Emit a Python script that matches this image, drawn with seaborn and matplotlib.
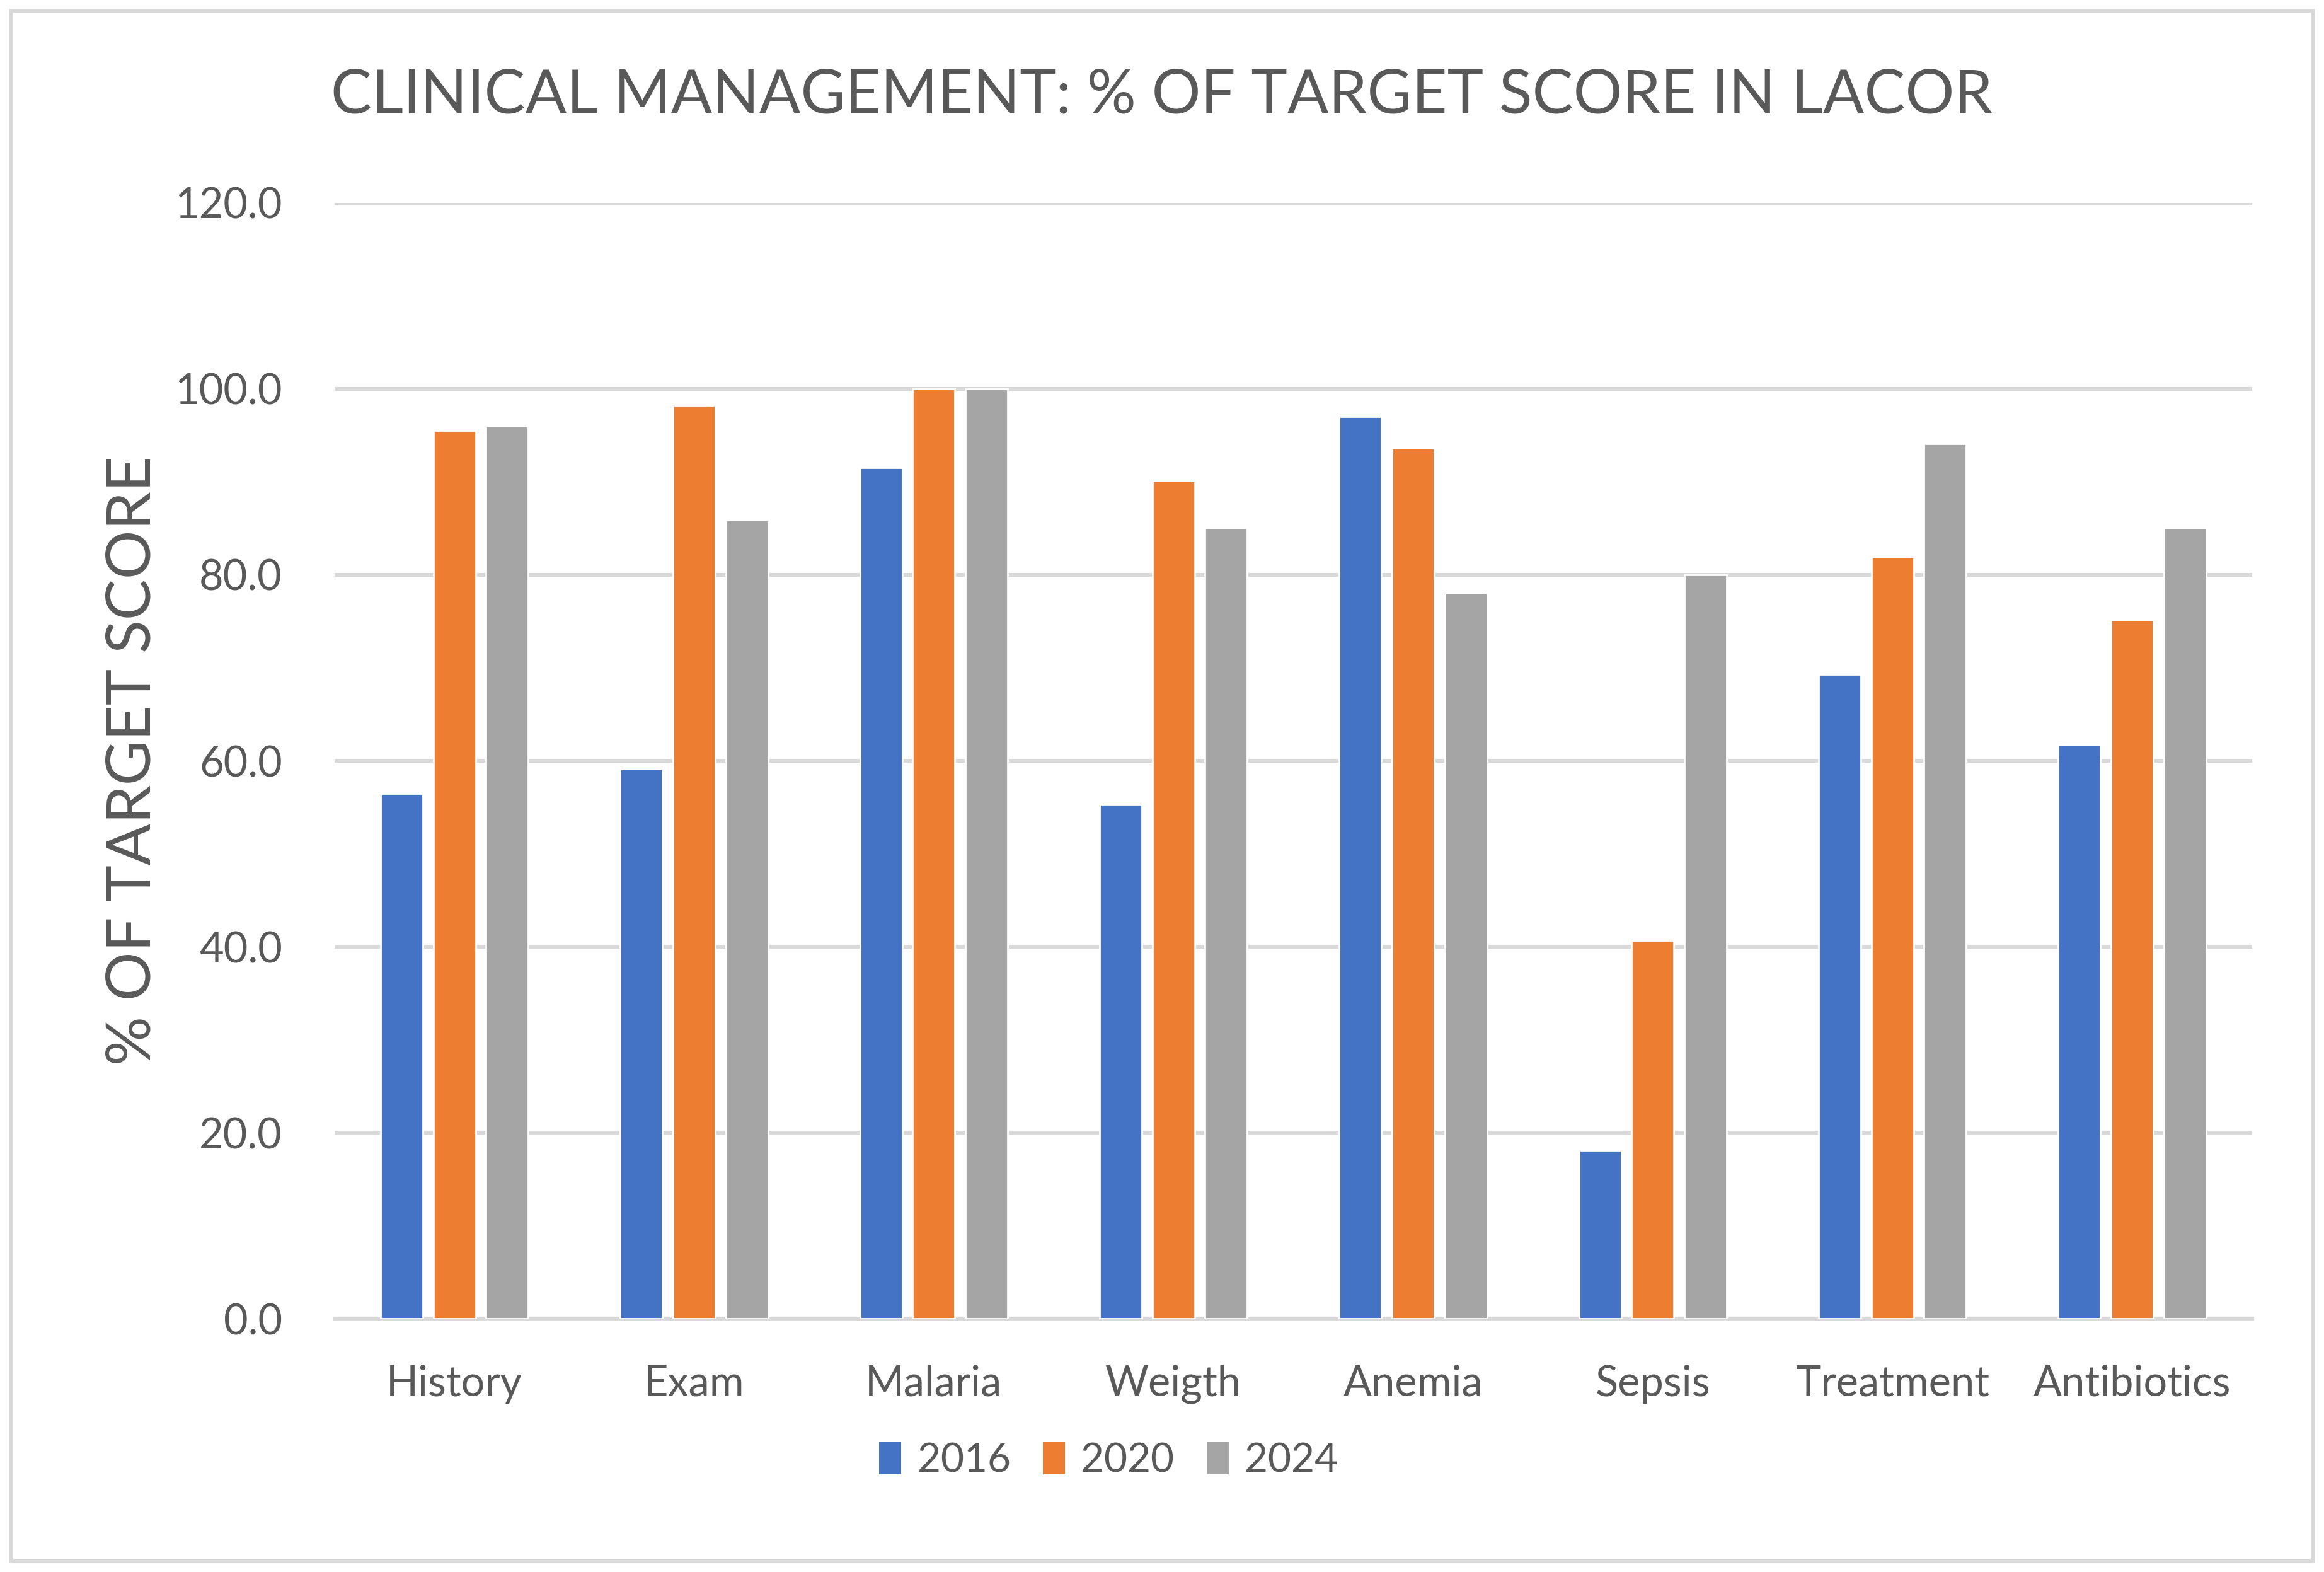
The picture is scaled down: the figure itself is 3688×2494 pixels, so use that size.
import numpy as np
import pandas as pd
import seaborn as sns
import matplotlib.pyplot as plt
from matplotlib.patches import Patch, Rectangle

categories = ["History", "Exam", "Malaria", "Weigth", "Anemia", "Sepsis", "Treatment", "Antibiotics"]
years = ["2016", "2020", "2024"]
score_2016 = [56.5, 59.1, 91.5, 55.3, 97.0, 18.1, 69.3, 61.7]
score_2020 = [95.5, 98.2, 100.0, 90.1, 93.6, 40.7, 81.9, 75.1]
score_2024 = [96.0, 85.9, 100.0, 85.0, 78.0, 80.0, 94.1, 85.0]
yticks = [0, 20, 40, 60, 80, 100, 120]

colors = ["#4472C4", "#ED7D31", "#A5A5A5"]
text_col = "#595959"
grid_col = "#D9D9D9"

df = pd.DataFrame({
    "category": categories * 3,
    "year": [y for y in years for _ in categories],
    "score": score_2016 + score_2020 + score_2024,
})

sns.set_theme(style="white")
plt.rcParams["font.family"] = ["Lato", "DejaVu Sans"]

fig = plt.figure(figsize=(18.44, 12.47), dpi=200)
ax = fig.add_axes([0.144, 0.161, 0.825, 0.71])

sns.barplot(data=df, x="category", y="score", hue="year", order=categories,
            hue_order=years, palette=colors, width=0.66, gap=0.2,
            saturation=1, ax=ax, legend=False, zorder=3)

ax.set_ylim(0, 120)
ax.set_yticks(yticks)
ax.set_yticklabels([f"{t:.1f}" for t in yticks])
ax.set_xlim(-0.5, len(categories) - 0.5)
ax.yaxis.grid(True, color=grid_col, linewidth=2.2, zorder=0)
ax.set_axisbelow(True)
for s in ["top", "right", "left"]:
    ax.spines[s].set_visible(False)
ax.spines["bottom"].set_color(grid_col)
ax.spines["bottom"].set_linewidth(2.2)
ax.tick_params(axis="both", length=0, labelsize=24, colors=text_col)
ax.tick_params(axis="y", pad=30)
ax.tick_params(axis="x", pad=26)
ax.set_xlabel("")
ax.set_ylabel("% OF TARGET SCORE", fontsize=35, color=text_col, labelpad=8)

fig.text(0.5, 0.939, "CLINICAL MANAGEMENT: % OF TARGET SCORE IN LACOR",
         ha="center", va="center", fontsize=35, color=text_col)

handles = [Patch(facecolor=c, edgecolor="none", label=y) for c, y in zip(colors, years)]
fig.legend(handles=handles, loc="center", bbox_to_anchor=(0.477, 0.071), ncol=3,
           frameon=False, fontsize=23, labelcolor=text_col, handlelength=0.55,
           handleheight=0.85, handletextpad=0.4, columnspacing=0.8)

fig.patches.append(Rectangle((0.005, 0.007), 0.99, 0.986, transform=fig.transFigure,
                             fill=False, edgecolor=grid_col, linewidth=2.2))

plt.savefig("out.png", dpi=200)
plt.close()
